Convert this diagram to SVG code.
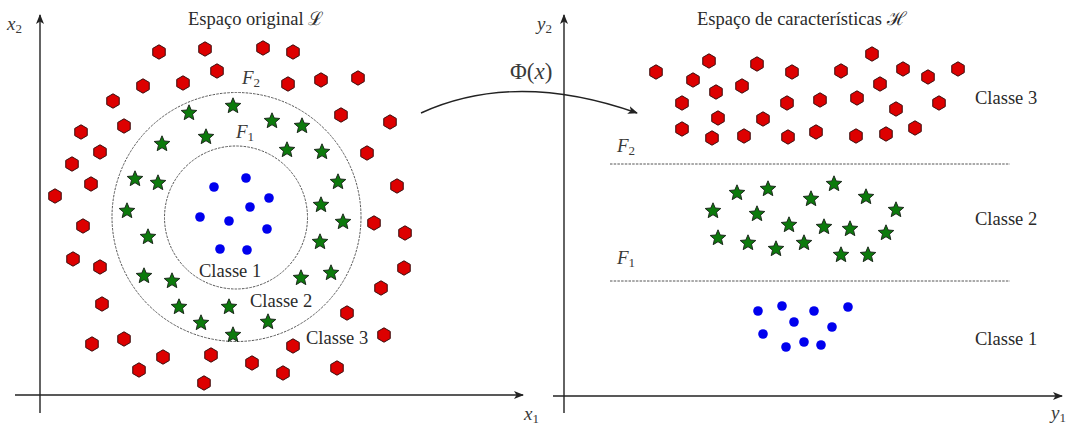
<svg xmlns="http://www.w3.org/2000/svg" xmlns:xlink="http://www.w3.org/1999/xlink" width="1070" height="427" viewBox="0 0 1070 427">
<style>
.t{font-family:"Liberation Serif","Times New Roman","DejaVu Serif",serif;font-size:18.5px;fill:#2a2a2a}
.m{font-family:"Liberation Serif","Times New Roman","DejaVu Serif",serif;font-style:italic;font-size:19px;fill:#3a3a3a}
.s{font-size:13px;font-style:normal}
.ax{stroke:#222;stroke-width:1.4;fill:none}
.bd{stroke:#555;stroke-width:1;fill:none;stroke-dasharray:2.5 1.2}
.r{fill:#dd0000;stroke:#3a0a0a;stroke-width:1}
.g{fill:#0c7a0c;stroke:#1d2a1d;stroke-width:1}
.b{fill:#0000ee}
</style>
<defs>
<polygon id="hex" points="0,-7.2 6.24,-3.6 6.24,3.6 0,7.2 -6.24,3.6 -6.24,-3.6"/>
<polygon id="star" points="0,-8.2 2.2,-3 7.8,-2.53 3.5,1.13 4.82,6.63 0,3.7 -4.82,6.63 -3.5,1.13 -7.8,-2.53 -2.2,-3"/>
<circle id="dot" r="4.8"/>
<marker id="ah" viewBox="0 0 10 8" refX="9" refY="4" markerWidth="10" markerHeight="8" markerUnits="userSpaceOnUse" orient="auto">
<path d="M0,0 L10,4 L0,8 L2.5,4 Z" fill="#222"/>
</marker>
</defs>
<g id="axes-left">
<line class="ax" x1="40" y1="413" x2="40" y2="15" marker-end="url(#ah)"/>
<line class="ax" x1="15" y1="395" x2="523" y2="395" marker-end="url(#ah)"/>
<text class="m" x="7" y="30">x<tspan class="s" dy="3">2</tspan></text>
<text class="m" x="524" y="420">x<tspan class="s" dy="3">1</tspan></text>
</g>
<g id="axes-right">
<line class="ax" x1="564" y1="413" x2="564" y2="15" marker-end="url(#ah)"/>
<line class="ax" x1="553" y1="396" x2="1062" y2="396" marker-end="url(#ah)"/>
<text class="m" x="537" y="30">y<tspan class="s" dy="3">2</tspan></text>
<text class="m" x="1051" y="419">y<tspan class="s" dy="3">1</tspan></text>
</g>
<g id="titles">
<text class="t" x="188" y="25">Espaço original ℒ</text>
<text class="t" x="697" y="25">Espaço de características ℋ</text>
</g>
<g id="boundaries-left">
<circle class="bd" cx="236.5" cy="217" r="124.5"/>
<circle class="bd" cx="236" cy="217.5" r="71.5"/>
<text class="m" x="242" y="84">F<tspan class="s" dy="3">2</tspan></text>
<text class="m" x="236" y="138">F<tspan class="s" dy="3">1</tspan></text>
</g>
<g id="boundaries-right">
<line class="bd" x1="610" y1="164" x2="1010" y2="164"/>
<line class="bd" x1="610" y1="281" x2="1010" y2="281"/>
<text class="m" x="617" y="152">F<tspan class="s" dy="3">2</tspan></text>
<text class="m" x="617" y="264">F<tspan class="s" dy="3">1</tspan></text>
</g>
<g id="connectors">
<path class="ax" d="M421,113 Q515,70 637,113" marker-end="url(#ah)"/>
<text class="t" x="510" y="79" style="font-size:23px;fill:#3a3a3a">Φ(<tspan font-style="italic">x</tspan>)</text>
</g>
<g id="labels">
<text class="t" x="199" y="277">Classe 1</text>
<text class="t" x="250" y="307">Classe 2</text>
<text class="t" x="306" y="344">Classe 3</text>
<text class="t" x="975" y="104">Classe 3</text>
<text class="t" x="975" y="225">Classe 2</text>
<text class="t" x="975" y="345">Classe 1</text>
</g>
<g id="left-class3" class="r">
<use href="#hex" x="159" y="52"/><use href="#hex" x="205" y="49"/><use href="#hex" x="263" y="48"/><use href="#hex" x="293" y="52"/>
<use href="#hex" x="217" y="71"/><use href="#hex" x="143" y="86"/><use href="#hex" x="183" y="83"/><use href="#hex" x="288" y="84"/>
<use href="#hex" x="321" y="80"/><use href="#hex" x="358" y="78"/><use href="#hex" x="113" y="101"/><use href="#hex" x="124" y="126"/>
<use href="#hex" x="81" y="132"/><use href="#hex" x="341" y="115"/><use href="#hex" x="390" y="122"/><use href="#hex" x="100" y="152"/>
<use href="#hex" x="72" y="164"/><use href="#hex" x="367" y="153"/><use href="#hex" x="91" y="184"/><use href="#hex" x="55" y="196"/>
<use href="#hex" x="397" y="186"/>
<use href="#hex" x="83" y="226"/><use href="#hex" x="374" y="223"/><use href="#hex" x="405" y="233"/><use href="#hex" x="73" y="259"/>
<use href="#hex" x="100" y="267"/><use href="#hex" x="404" y="268"/><use href="#hex" x="381" y="288"/><use href="#hex" x="102" y="304"/>
<use href="#hex" x="347" y="313"/><use href="#hex" x="384" y="335"/><use href="#hex" x="92" y="344"/><use href="#hex" x="124" y="339"/>
<use href="#hex" x="293" y="346"/><use href="#hex" x="163" y="357"/><use href="#hex" x="211" y="355"/><use href="#hex" x="139" y="370"/>
<use href="#hex" x="252" y="363"/><use href="#hex" x="283" y="373"/><use href="#hex" x="337" y="368"/><use href="#hex" x="204" y="383"/>
</g>
<g id="left-class2" class="g">
<use href="#star" x="189" y="113"/><use href="#star" x="233" y="106"/><use href="#star" x="272" y="121"/><use href="#star" x="302" y="126"/>
<use href="#star" x="162" y="144"/><use href="#star" x="206" y="137"/><use href="#star" x="287" y="150"/><use href="#star" x="322" y="152"/>
<use href="#star" x="135" y="179"/><use href="#star" x="158" y="183"/><use href="#star" x="338" y="182"/><use href="#star" x="321" y="205"/>
<use href="#star" x="127" y="211"/><use href="#star" x="148" y="237"/><use href="#star" x="343" y="222"/><use href="#star" x="320" y="242"/>
<use href="#star" x="144" y="276"/><use href="#star" x="172" y="281"/><use href="#star" x="301" y="278"/><use href="#star" x="331" y="273"/>
<use href="#star" x="179" y="307"/><use href="#star" x="229" y="307"/><use href="#star" x="201" y="323"/><use href="#star" x="268" y="322"/>
<use href="#star" x="233" y="335"/>
</g>
<g id="left-class1" class="b">
<use href="#dot" x="214" y="187"/><use href="#dot" x="246" y="178"/><use href="#dot" x="269" y="198"/><use href="#dot" x="250" y="207"/>
<use href="#dot" x="200" y="217"/><use href="#dot" x="229" y="221"/><use href="#dot" x="267" y="229"/><use href="#dot" x="220" y="249"/>
<use href="#dot" x="247" y="250"/>
</g>
<g id="right-class3" class="r">
<use href="#hex" x="656" y="72"/><use href="#hex" x="693" y="80"/><use href="#hex" x="682" y="103"/><use href="#hex" x="682" y="129"/>
<use href="#hex" x="709" y="61"/><use href="#hex" x="757" y="64"/><use href="#hex" x="792" y="72"/><use href="#hex" x="841" y="71"/>
<use href="#hex" x="872" y="54"/><use href="#hex" x="903" y="69"/><use href="#hex" x="928" y="77"/><use href="#hex" x="958" y="69"/>
<use href="#hex" x="716" y="92"/><use href="#hex" x="742" y="86"/><use href="#hex" x="787" y="103"/><use href="#hex" x="820" y="100"/>
<use href="#hex" x="857" y="98"/><use href="#hex" x="880" y="84"/><use href="#hex" x="896" y="109"/><use href="#hex" x="939" y="103"/>
<use href="#hex" x="718" y="118"/><use href="#hex" x="763" y="119"/><use href="#hex" x="712" y="138"/><use href="#hex" x="744" y="136"/>
<use href="#hex" x="788" y="137"/><use href="#hex" x="816" y="132"/><use href="#hex" x="856" y="136"/><use href="#hex" x="886" y="134"/>
<use href="#hex" x="915" y="128"/>
</g>
<g id="right-class2" class="g">
<use href="#star" x="737" y="193"/><use href="#star" x="768" y="189"/><use href="#star" x="811" y="199"/><use href="#star" x="834" y="184"/>
<use href="#star" x="866" y="197"/><use href="#star" x="896" y="210"/><use href="#star" x="713" y="211"/><use href="#star" x="757" y="214"/>
<use href="#star" x="789" y="225"/><use href="#star" x="824" y="227"/><use href="#star" x="850" y="229"/><use href="#star" x="886" y="233"/>
<use href="#star" x="718" y="238"/><use href="#star" x="748" y="243"/><use href="#star" x="776" y="249"/><use href="#star" x="804" y="243"/>
<use href="#star" x="841" y="255"/><use href="#star" x="868" y="255"/>
</g>
<g id="right-class1" class="b">
<use href="#dot" x="758" y="311"/><use href="#dot" x="782" y="306"/><use href="#dot" x="814" y="311"/><use href="#dot" x="848" y="307"/>
<use href="#dot" x="794" y="322"/><use href="#dot" x="832" y="327"/><use href="#dot" x="763" y="334"/><use href="#dot" x="786" y="347"/>
<use href="#dot" x="804" y="342"/><use href="#dot" x="821" y="345"/>
</g>
</svg>
